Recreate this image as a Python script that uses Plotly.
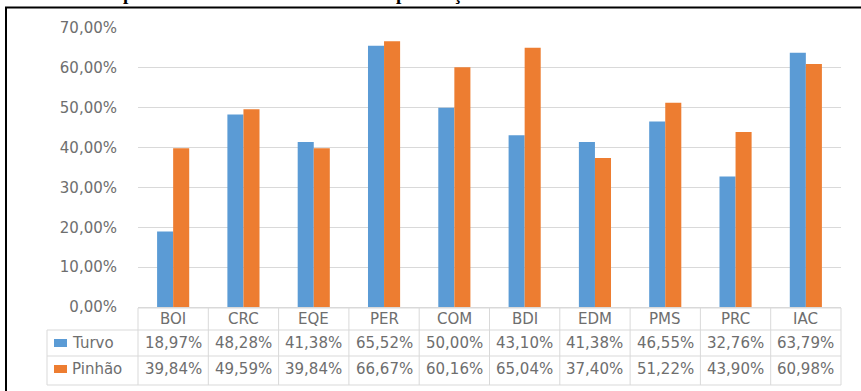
import plotly.graph_objects as go

# Dimensions and percentage scores for each municipality
categories = ["BOI", "CRC", "EQE", "PER", "COM", "BDI", "EDM", "PMS", "PRC", "IAC"]
turvo = [18.97, 48.28, 41.38, 65.52, 50.00, 43.10, 41.38, 46.55, 32.76, 63.79]
pinhao = [39.84, 49.59, 39.84, 66.67, 60.16, 65.04, 37.40, 51.22, 43.90, 60.98]
series_names = ["Turvo", "Pinhão"]
y_ticks = [0, 10, 20, 30, 40, 50, 60, 70]

BLUE = "#5B9BD5"
ORANGE = "#ED7D31"
TEXT = "#6e6e6e"
GRID = "#d9d9d9"
FONT = "DejaVu Sans"

# page geometry (pixels)
FIG_W, FIG_H = 861, 391
PLOT_L, PLOT_R = 138, 841
PLOT_T, PLOT_B = 28, 307


def px_x(x):
    return (x - PLOT_L) / (PLOT_R - PLOT_L)


def px_y(y):
    return (PLOT_B - y) / (PLOT_B - PLOT_T)


def pct(v):
    return f"{v:.2f}".replace(".", ",") + "%"


fig = go.Figure()
fig.add_trace(go.Bar(x=categories, y=turvo, name=series_names[0],
                     marker=dict(color=BLUE, line=dict(width=0))))
fig.add_trace(go.Bar(x=categories, y=pinhao, name=series_names[1],
                     marker=dict(color=ORANGE, line=dict(width=0))))

shapes = []
annotations = []

# data table grid
row_lines = [308, 330, 356, 385]
for i, yy in enumerate(row_lines):
    x0 = PLOT_L if i == 0 else 47
    shapes.append(dict(type="line", xref="paper", yref="paper",
                       x0=px_x(x0), x1=1, y0=px_y(yy), y1=px_y(yy),
                       line=dict(color=GRID, width=1)))
for k in range(len(categories) + 1):
    shapes.append(dict(type="line", xref="paper", yref="paper",
                       x0=k / len(categories), x1=k / len(categories),
                       y0=px_y(308), y1=px_y(385),
                       line=dict(color=GRID, width=1)))
shapes.append(dict(type="line", xref="paper", yref="paper",
                   x0=px_x(47), x1=px_x(47), y0=px_y(330), y1=px_y(385),
                   line=dict(color=GRID, width=1)))

# category header row
for c in categories:
    annotations.append(dict(x=c, xref="x", y=px_y(319), yref="paper",
                            text=c, showarrow=False, xanchor="center", yanchor="middle",
                            font=dict(family=FONT, size=15, color=TEXT)))

# value rows with legend keys
rows = [(series_names[0], turvo, BLUE, 343), (series_names[1], pinhao, ORANGE, 369)]
for name, vals, color, yc in rows:
    shapes.append(dict(type="rect", xref="paper", yref="paper",
                       x0=px_x(54), x1=px_x(67), y0=px_y(yc + 4), y1=px_y(yc - 4),
                       fillcolor=color, line=dict(width=0)))
    annotations.append(dict(x=px_x(70), xref="paper", y=px_y(yc), yref="paper",
                            text=name, showarrow=False, xanchor="left", yanchor="middle",
                            font=dict(family=FONT, size=15, color=TEXT)))
    for c, v in zip(categories, vals):
        annotations.append(dict(x=c, xref="x", y=px_y(yc), yref="paper",
                                text=pct(v), showarrow=False, xanchor="center",
                                yanchor="middle",
                                font=dict(family=FONT, size=15, color=TEXT)))

# outer frame (top and left edges)
shapes.append(dict(type="line", xref="paper", yref="paper",
                   x0=px_x(5), x1=px_x(FIG_W), y0=px_y(7.5), y1=px_y(7.5),
                   line=dict(color="black", width=2)))
shapes.append(dict(type="line", xref="paper", yref="paper",
                   x0=px_x(6), x1=px_x(6), y0=px_y(7), y1=px_y(FIG_H),
                   line=dict(color="black", width=2)))

# heading above the frame (only its lower edge falls inside the page)
annotations.append(dict(x=px_x(82), xref="paper", y=px_y(5.5), yref="paper",
                        text="<b>Comparativo entre Turvo e Pinhão na pontuação das dimensões</b>",
                        showarrow=False, xanchor="left", yanchor="bottom",
                        font=dict(family="Liberation Serif", size=19, color="black")))

fig.update_layout(
    width=FIG_W, height=FIG_H,
    margin=dict(l=PLOT_L, r=FIG_W - PLOT_R, t=PLOT_T, b=FIG_H - PLOT_B, pad=0),
    paper_bgcolor="white", plot_bgcolor="white",
    barmode="group", bargap=0.543, bargroupgap=0,
    showlegend=False,
    shapes=shapes, annotations=annotations,
    xaxis=dict(type="category", range=[-0.5, len(categories) - 0.5],
               showticklabels=False, showgrid=False, zeroline=False,
               showline=False, ticks=""),
    yaxis=dict(range=[0, 70], tickmode="array", tickvals=y_ticks,
               ticktext=[pct(t) for t in y_ticks],
               showgrid=True, gridcolor=GRID, gridwidth=1,
               zeroline=True, zerolinecolor=GRID, zerolinewidth=1,
               showline=False, ticks="", ticklabelstandoff=20,
               tickfont=dict(family=FONT, size=15, color=TEXT)),
)

fig.write_html("out.html")
